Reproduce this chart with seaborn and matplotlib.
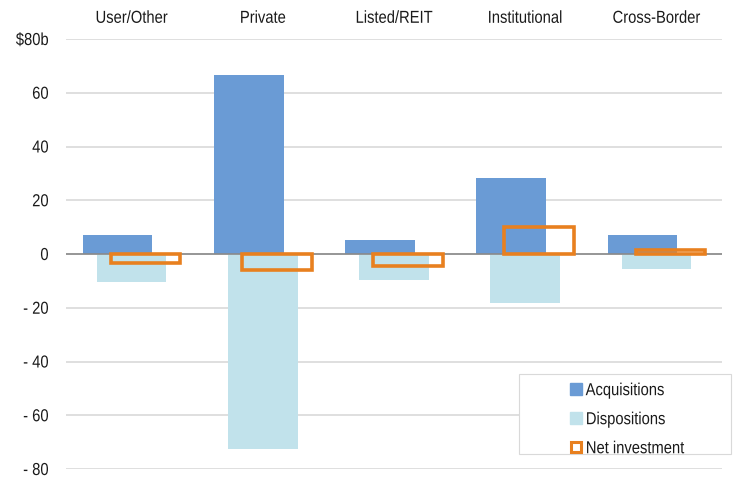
import numpy as np
import pandas as pd
import seaborn as sns
import matplotlib.pyplot as plt
from matplotlib.lines import Line2D
from matplotlib.patches import Rectangle
from matplotlib.patheffects import AbstractPathEffect
from matplotlib.transforms import Affine2D

# Investment flows by buyer type ($ billions)
categories = ["User/Other", "Private", "Listed/REIT", "Institutional", "Cross-Border"]
acquisitions = [7.0, 66.6, 5.3, 28.3, 7.1]
dispositions = [-10.5, -72.6, -9.6, -18.1, -5.6]
net_investment = [-3.5, -6.0, -4.3, 10.2, 1.5]

ytick_values = [80, 60, 40, 20, 0, -20, -40, -60, -80]
ytick_labels = ["\\$80b", "60", "40", "20", "0", "- 20", "- 40", "- 60", "- 80"]

series_names = ["Acquisitions", "Dispositions", "Net investment"]
colors = {"Acquisitions": "#6A9BD5", "Dispositions": "#C1E2EB", "Net investment": "#E8801F"}


class Narrow(AbstractPathEffect):
    """Draw text glyphs horizontally condensed around a chosen anchor."""

    def __init__(self, sx=0.85, anchor="center"):
        super().__init__()
        self.sx = sx
        self.anchor = anchor

    def draw_path(self, renderer, gc, tpath, affine, rgbFace=None):
        ext = tpath.get_extents()
        if self.anchor == "left":
            cx = ext.x0
        elif self.anchor == "right":
            cx = ext.x1
        else:
            cx = 0.5 * (ext.x0 + ext.x1)
        squeeze = Affine2D().translate(-cx, 0).scale(self.sx, 1).translate(cx, 0)
        renderer.draw_path(gc, tpath, squeeze + affine, rgbFace)


sns.set_theme(style="white")
plt.rcParams["font.family"] = ["Liberation Sans", "DejaVu Sans"]

FS = 12.5
SX = 0.85

fig = plt.figure(figsize=(7.33, 4.78), dpi=100)
ax = fig.add_axes([66 / 733, 9 / 478, 656 / 733, 430 / 478])

pos = np.arange(len(categories))
shift = 0.107
bar_w = 0.53

sns.barplot(x=pos - shift, y=acquisitions, native_scale=True, width=bar_w,
            color=colors["Acquisitions"], saturation=1, linewidth=0, ax=ax, zorder=2)
sns.barplot(x=pos + 0.0, y=dispositions, native_scale=True, width=bar_w,
            color=colors["Dispositions"], saturation=1, linewidth=0, ax=ax, zorder=2)
ax.axhline(0, color="#8A8A8A", lw=1.2, zorder=3)
sns.barplot(x=pos + shift, y=net_investment, native_scale=True, width=bar_w,
            color=colors["Net investment"], saturation=1, fill=False, linewidth=2.6,
            ax=ax, zorder=4)

ax.set_xlim(-0.5, len(categories) - 0.5)
ax.set_ylim(-80, 80)
ax.set_yticks(ytick_values)
ax.set_yticklabels(ytick_labels)
ax.set_xticks(pos)
ax.set_xticklabels(categories)
ax.xaxis.tick_top()
ax.tick_params(axis="x", length=0, pad=9.5, labelsize=FS, colors="#1a1a1a")
ax.tick_params(axis="y", length=0, pad=12.5, labelsize=FS, colors="#1a1a1a")
for t in ax.get_xticklabels():
    t.set_path_effects([Narrow(SX, "center")])
for t in ax.get_yticklabels():
    t.set_path_effects([Narrow(SX, "right")])
ax.yaxis.grid(True, color="#D9D9D9", lw=1.2)
ax.set_axisbelow(True)
for s in ax.spines.values():
    s.set_visible(False)
ax.set_xlabel("")
ax.set_ylabel("")

# Legend box with white fill, entries left-aligned inside
frame = Rectangle((519 / 733, (478 - 454) / 478), 212 / 733, 80 / 478,
                  transform=fig.transFigure, facecolor="white",
                  edgecolor="#D9D9D9", lw=0.8, zorder=4)
fig.add_artist(frame)

handles = [
    Line2D([], [], ls="none", marker="s", ms=8.5, mfc=colors["Acquisitions"], mec=colors["Acquisitions"]),
    Line2D([], [], ls="none", marker="s", ms=8.5, mfc=colors["Dispositions"], mec=colors["Dispositions"]),
    Line2D([], [], ls="none", marker="s", ms=7.5, mfc="white", mec=colors["Net investment"], mew=2.2),
]
leg = fig.legend(handles, series_names, loc="upper left",
                 bbox_to_anchor=(570 / 733, 1 - 383 / 478), frameon=False,
                 fontsize=FS, handlelength=0.7, handletextpad=0.2,
                 labelspacing=0.8, borderpad=0, borderaxespad=0)
leg.set_zorder(5)
for t in leg.get_texts():
    t.set_color("#1a1a1a")
    t.set_path_effects([Narrow(SX, "left")])

fig.savefig("out.png", dpi=100)
